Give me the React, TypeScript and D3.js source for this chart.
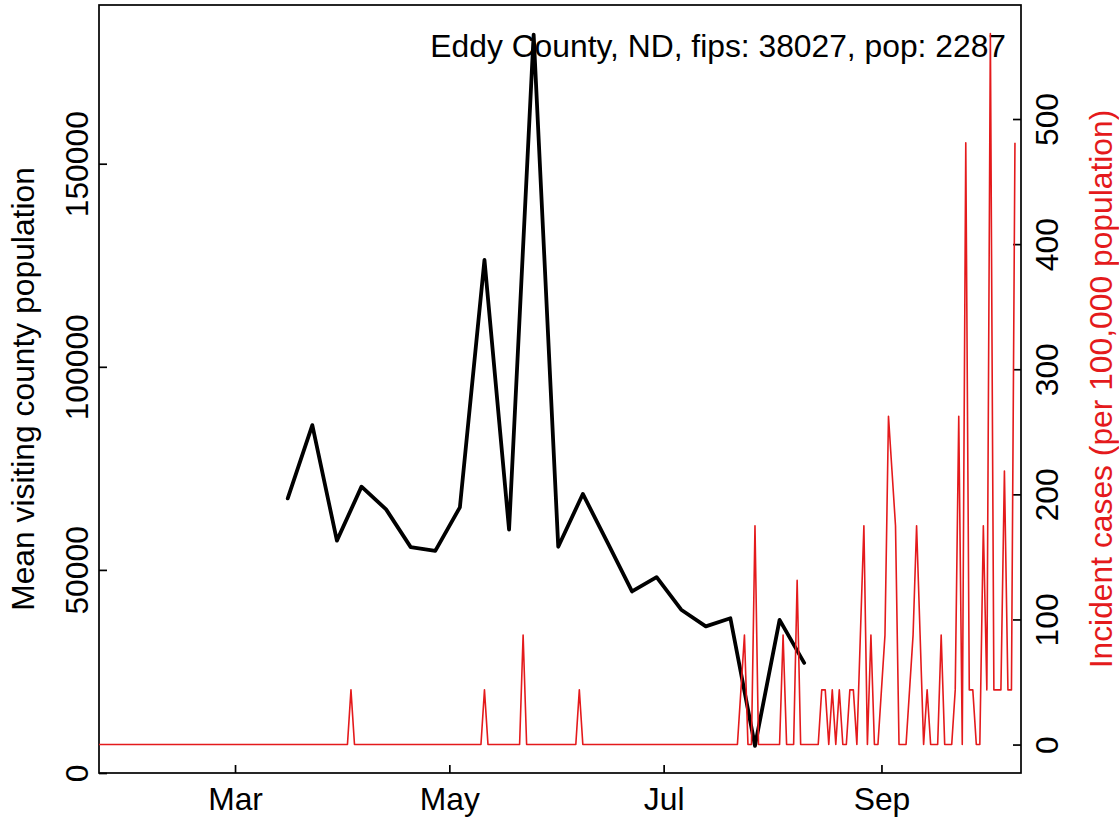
import React, { useEffect, useRef } from 'react';
import * as d3 from 'd3';

const title = "Eddy County, ND, fips: 38027, pop: 2287";
const leftLabel = "Mean visiting county population";
const rightLabel = "Incident cases (per 100,000 population)";

// weekly mean visiting county population (black)
const visitDates = [
  "2020-03-16", "2020-03-23", "2020-03-30", "2020-04-06", "2020-04-13", "2020-04-20",
  "2020-04-27", "2020-05-04", "2020-05-11", "2020-05-18", "2020-05-25", "2020-06-01",
  "2020-06-08", "2020-06-15", "2020-06-22", "2020-06-29", "2020-07-06", "2020-07-13",
  "2020-07-20", "2020-07-27", "2020-08-03", "2020-08-10",
];
const visitPop = [
  67600, 85650, 57200, 70500, 64900, 55600,
  54700, 65400, 126300, 59900, 181800, 55700,
  68700, 56800, 44700, 48200, 40200, 36100,
  38100, 6700, 37700, 27100,
];

// daily incident cases per 100k (red), one value per day from incidentStart
const incidentStart = "2020-01-22";
const incident = [
  0, 0, 0, 0, 0, 0, 0, 0, 0, 0,
  0, 0, 0, 0, 0, 0, 0, 0, 0, 0,
  0, 0, 0, 0, 0, 0, 0, 0, 0, 0,
  0, 0, 0, 0, 0, 0, 0, 0, 0, 0,
  0, 0, 0, 0, 0, 0, 0, 0, 0, 0,
  0, 0, 0, 0, 0, 0, 0, 0, 0, 0,
  0, 0, 0, 0, 0, 0, 0, 0, 0, 0,
  0, 0, 43.7, 0, 0, 0, 0, 0, 0, 0,
  0, 0, 0, 0, 0, 0, 0, 0, 0, 0,
  0, 0, 0, 0, 0, 0, 0, 0, 0, 0,
  0, 0, 0, 0, 0, 0, 0, 0, 0, 0,
  43.7, 0, 0, 0, 0, 0, 0, 0, 0, 0,
  0, 87.5, 0, 0, 0, 0, 0, 0, 0, 0,
  0, 0, 0, 0, 0, 0, 0, 43.7, 0, 0,
  0, 0, 0, 0, 0, 0, 0, 0, 0, 0,
  0, 0, 0, 0, 0, 0, 0, 0, 0, 0,
  0, 0, 0, 0, 0, 0, 0, 0, 0, 0,
  0, 0, 0, 0, 0, 0, 0, 0, 0, 0,
  0, 0, 0, 43.7, 87.5, 0, 0, 174.9, 0, 0,
  0, 0, 0, 0, 0, 87.5, 0, 0, 0, 131.2,
  0, 0, 0, 0, 0, 0, 43.7, 43.7, 0, 43.7,
  0, 43.7, 0, 0, 43.7, 43.7, 0, 87.5, 174.9, 0,
  87.5, 0, 0, 43.7, 87.5, 262.4, 218.6, 174.9, 0, 0,
  0, 43.7, 87.5, 174.9, 87.5, 0, 43.7, 0, 0, 0,
  87.5, 0, 0, 0, 43.7, 262.4, 0, 481.0, 43.7, 43.7,
  0, 0, 174.9, 43.7, 568.4, 43.7, 43.7, 43.7, 218.6, 43.7,
  43.7, 481.0,
];

const xLimits = ["2020-02-01", "2020-10-01"];
const xTickDates = ["2020-03-01", "2020-05-01", "2020-07-01", "2020-09-01"];
const leftTicks = [0, 50000, 100000, 150000];
const rightTicks = [0, 100, 200, 300, 400, 500];

const RED = "#e41a1c";
const FONT = '"Liberation Sans", Arial, Helvetica, sans-serif';
const FS = 31.8;

const App: React.FC = () => {
  const svgRef = useRef<SVGSVGElement>(null);

  useEffect(() => {
    const svg = d3.select(svgRef.current);
    svg.selectAll("*").remove();

    const left = 99, right = 1021, top = 5, bottom = 773;
    const parse = d3.utcParse("%Y-%m-%d");

    // R style 4% padding around the x limits
    const [a, b] = xLimits.map(s => parse(s)!.getTime());
    const pad = (b - a) * 0.04;
    const x = d3.scaleUtc()
      .domain([new Date(a - pad), new Date(b + pad)])
      .range([left, right]);

    const yLeft = d3.scaleLinear()
      .domain([0, d3.max(visitPop)! * 1.04])
      .range([bottom, top]);

    const rMax = d3.max(incident)!;
    const yRight = d3.scaleLinear()
      .domain([-rMax * 0.04, rMax * 1.04])
      .range([bottom, top]);

    const restyle = (g: any) => {
      g.attr("font-family", FONT).attr("font-size", FS);
      g.select(".domain").remove();
      g.selectAll(".tick line").attr("stroke", "#000").attr("stroke-width", 1.7);
      g.selectAll(".tick text").attr("fill", "#000");
    };

    // bottom axis
    const gx = svg.append("g")
      .attr("transform", `translate(0,${bottom})`)
      .call(d3.axisBottom(x)
        .tickValues(xTickDates.map(s => parse(s)!))
        .tickFormat(d3.utcFormat("%b") as any)
        .tickSize(-8));
    restyle(gx);
    gx.selectAll(".tick text").attr("y", 37).attr("dy", null);

    // left axis
    const gl = svg.append("g")
      .attr("transform", `translate(${left},0)`)
      .call(d3.axisLeft(yLeft).tickValues(leftTicks).tickFormat(d3.format("d")).tickSize(-8));
    restyle(gl);
    gl.selectAll(".tick text")
      .attr("x", null).attr("dy", null)
      .attr("text-anchor", "middle")
      .attr("transform", "translate(-11.5,0) rotate(-90)");

    // right axis
    const gr = svg.append("g")
      .attr("transform", `translate(${right},0)`)
      .call(d3.axisRight(yRight).tickValues(rightTicks).tickFormat(d3.format("d")).tickSize(-8));
    restyle(gr);
    gr.selectAll(".tick text")
      .attr("x", null).attr("dy", null)
      .attr("text-anchor", "middle")
      .attr("transform", "translate(37,0) rotate(-90)");

    // box
    svg.append("rect")
      .attr("x", left).attr("y", top)
      .attr("width", right - left).attr("height", bottom - top)
      .attr("fill", "none").attr("stroke", "#000").attr("stroke-width", 1.7);

    // axis titles
    svg.append("text")
      .attr("transform", `translate(34,${(top + bottom) / 2}) rotate(-90)`)
      .attr("text-anchor", "middle")
      .attr("font-family", FONT).attr("font-size", FS)
      .text(leftLabel);

    svg.append("text")
      .attr("transform", `translate(1111.5,${(top + bottom) / 2}) rotate(-90)`)
      .attr("text-anchor", "middle")
      .attr("font-family", FONT).attr("font-size", FS)
      .attr("fill", RED)
      .text(rightLabel);

    // county label
    svg.append("text")
      .attr("x", 1006).attr("y", 56.5)
      .attr("text-anchor", "end")
      .attr("font-family", FONT).attr("font-size", FS)
      .text(title);

    svg.append("clipPath").attr("id", "plot-clip")
      .append("rect")
      .attr("x", left).attr("y", top)
      .attr("width", right - left).attr("height", bottom - top);

    // mobility line
    const visitLine = d3.line<number>()
      .x((d, i) => x(parse(visitDates[i])!))
      .y(d => yLeft(d));

    svg.append("path")
      .datum(visitPop)
      .attr("clip-path", "url(#plot-clip)")
      .attr("d", visitLine)
      .attr("fill", "none")
      .attr("stroke", "#000")
      .attr("stroke-width", 3.8)
      .attr("stroke-linejoin", "round")
      .attr("stroke-linecap", "round");

    // incident cases line
    const start = parse(incidentStart)!;
    const caseLine = d3.line<number>()
      .x((d, i) => x(d3.utcDay.offset(start, i)))
      .y(d => yRight(d));

    svg.append("path")
      .datum(incident)
      .attr("clip-path", "url(#plot-clip)")
      .attr("d", caseLine)
      .attr("fill", "none")
      .attr("stroke", RED)
      .attr("stroke-width", 1.6)
      .attr("stroke-linejoin", "round");
  }, []);

  return (
    <svg
      ref={svgRef}
      width={1119}
      height={817}
      style={{ position: 'absolute', left: 0, top: 0, background: '#fff' }}
    />
  );
};

export default App;
